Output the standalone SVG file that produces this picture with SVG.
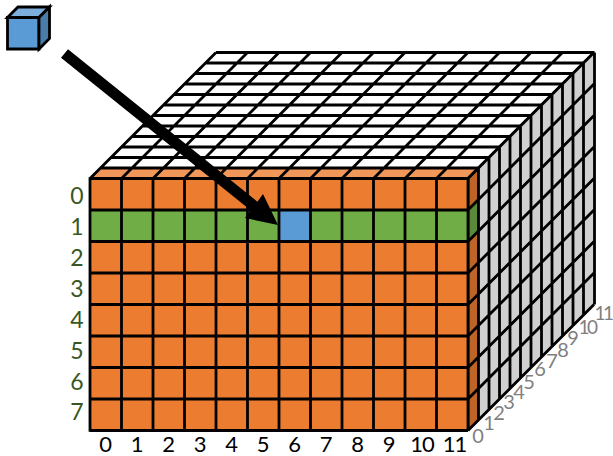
<svg xmlns="http://www.w3.org/2000/svg" width="613" height="456" viewBox="0 0 613 456">
<style>
.g{fill:none;stroke:#000;stroke-width:2.8}
.c{stroke:#000;stroke-width:2.8;stroke-linejoin:miter}
text{font-family:"Lato","Open Sans",sans-serif;text-anchor:middle}
.l{font-size:23px;fill:#385723}
.b{font-size:22px;fill:#000}
.d{font-size:20px;fill:#7f7f7f}
.n{font-size:19px;letter-spacing:-2.5px}
</style>
<rect width="613" height="456" fill="#fff"/>
<g id="top-face">
<polygon points="90,178.5 468,178.5 594.5,52.5 216.5,52.5" fill="#fff"/>
<polygon points="90,178.5 468,178.5 478.5,168 100.5,168" fill="#f19759"/>
<path class="g" d="M90 178.5h378M100.5 168h378M111 157.5h378M121.5 147h378M132 136.5h378M142.5 126h378M153 115.5h378M163.5 105h378M174 94.5h378M184.5 84h378M195 73.5h378M205.5 63h378M216 52.5h378.500M90 178.500l126 -126M121.500 178.500l126 -126M153 178.500l126 -126M184.500 178.500l126 -126M216 178.500l126 -126M247.500 178.500l126 -126M279 178.500l126 -126M310.500 178.500l126 -126M342 178.500l126 -126M373.500 178.500l126 -126M405 178.500l126 -126M436.500 178.500l126 -126M468 178.500l126 -126"/>
</g>
<g id="right-face">
<polygon points="468,178.500 594.500,52.500 594.500,304.500 468,430.500" fill="#d0d0d0"/>
<polygon points="468,178.500 478.500,168 478.500,420 468,430.500" fill="#be6427"/>
<polygon points="468,210 478.500,199.500 478.500,231 468,241.500" fill="#5a8a39"/>
<path class="g" d="M468 178.500v252M478.500 168v252M489 157.500v252M499.500 147v252M510 136.500v252M520.500 126v252M531 115.500v252M541.500 105v252M552 94.500v252M562.500 84v252M573 73.500v252M583.500 63v252M594.500 52.500v252M468 178.500l126 -126M468 210l126 -126M468 241.500l126 -126M468 273l126 -126M468 304.500l126 -126M468 336l126 -126M468 367.500l126 -126M468 399l126 -126M468 430.500l126 -126"/>
</g>
<g id="front-face">
<rect x="90" y="178.500" width="378" height="252" fill="#ec7c30"/>
<rect x="90" y="210" width="378" height="31.500" fill="#70ad47"/>
<rect id="selected-cell" x="279" y="210" width="31.500" height="31.500" fill="#5b9bd5"/>
<path class="g" d="M90 178.500h378M90 210h378M90 241.500h378M90 273h378M90 304.500h378M90 336h378M90 367.500h378M90 399h378M90 430.500h378M90 177.200v254.600M121.500 178.500v252M153 178.500v252M184.500 178.500v252M216 178.500v252M247.500 178.500v252M279 178.500v252M310.500 178.500v252M342 178.500v252M373.500 178.500v252M405 178.500v252M436.500 178.500v252M468 178.500v252"/>
</g>
<g id="cube">
<polygon class="c" points="7.500,17.500 39,17.500 39,49 7.500,49" fill="#5b9bd5"/>
<polygon class="c" points="7.500,17.500 18,7 49.500,7 39,17.500" fill="#7cafdd"/>
<polygon class="c" points="39,17.500 49.500,7 49.500,38.500 39,49" fill="#497cab"/>
</g>
<g id="connectors">
<polygon points="68,49.200 257.400,201.700 263,194 278,225 245,218 250.600,210.300 61,57.800" fill="#000"/>
</g>
<g id="row-labels">
<text class="l" x="77" y="204">0</text>
<text class="l" x="77" y="235">1</text>
<text class="l" x="77" y="266">2</text>
<text class="l" x="77" y="297">3</text>
<text class="l" x="77" y="328">4</text>
<text class="l" x="77" y="359">5</text>
<text class="l" x="77" y="390">6</text>
<text class="l" x="77" y="420">7</text>
</g>
<g id="column-labels">
<text class="b" x="105.700" y="451.500">0</text>
<text class="b" x="137.200" y="451.500">1</text>
<text class="b" x="168.700" y="451.500">2</text>
<text class="b" x="200.200" y="451.500">3</text>
<text class="b" x="231.700" y="451.500">4</text>
<text class="b" x="263.200" y="451.500">5</text>
<text class="b" x="294.700" y="451.500">6</text>
<text class="b" x="326.200" y="451.500">7</text>
<text class="b" x="357.700" y="451.500">8</text>
<text class="b" x="389.200" y="451.500">9</text>
<text class="b" x="422" y="451.500" style="letter-spacing:-1px">10</text>
<text class="b" x="454.500" y="451.500" style="letter-spacing:-1px">11</text>
</g>
<g id="depth-labels">
<text class="d" x="478" y="443">0</text>
<text class="d" x="489" y="430">1</text>
<text class="d" x="499" y="420">2</text>
<text class="d" x="509" y="409">3</text>
<text class="d" x="519" y="399">4</text>
<text class="d" x="529" y="389">5</text>
<text class="d" x="540" y="376">6</text>
<text class="d" x="552" y="368">7</text>
<text class="d" x="563" y="357">8</text>
<text class="d" x="573" y="345">9</text>
<text class="d n" x="587" y="334">10</text>
<text class="d n" x="603" y="320">11</text>
</g>
</svg>
